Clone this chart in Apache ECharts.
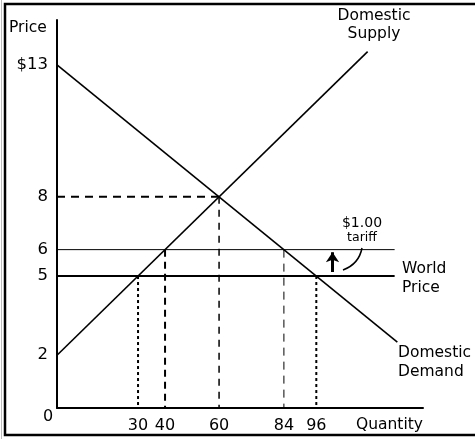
<!DOCTYPE html>
<html>
<head>
<meta charset="utf-8">
<script src="https://cdn.jsdelivr.net/npm/echarts@6/dist/echarts.min.js"></script>
<style>
html,body{margin:0;padding:0;background:#fff;}
#chart{width:475px;height:439px;}
</style>
</head>
<body>
<div id="chart"></div>
<script>
// ---- Data ----
const supplyQ = [0, 115];
const supplyP = [2, 13.5];
const demandQ = [0, 126];
const demandP = [13, 2.5];
const worldPriceQ = [0, 125];
const worldPrice = 5;
const tariffPrice = 6;
const equilibriumQ = 60;
const equilibriumP = 8;
const guideQ = [30, 40, 60, 84, 96];
const guideP = [5, 6, 8, 6, 5];
const xTicks = [30, 40, 60, 84, 96];
const yTicks = [2, 5, 6, 8, 13];
const arrowQ = 102;
const arrowP = [5.15, 5.9];

const FONT = 'DejaVu Sans';
const chart = echarts.init(document.getElementById('chart'), null, {renderer: 'canvas'});

function seg(xs, ys) { return xs.map((x, i) => [x, ys[i]]); }

const guideStyles = [
  {width: 2, type: [3, 3]},
  {width: 2, type: [7, 5]},
  {width: 1.5, type: [7, 6]},
  {width: 1, type: [8, 6]},
  {width: 2, type: [3, 3]}
];

const series = [];
series.push({type: 'line', data: seg(supplyQ, supplyP), symbol: 'none', lineStyle: {color: '#000', width: 1.6}, silent: true, z: 3});
series.push({type: 'line', data: seg(demandQ, demandP), symbol: 'none', lineStyle: {color: '#000', width: 1.6}, silent: true, z: 3});
series.push({type: 'line', data: seg(worldPriceQ, [worldPrice, worldPrice]), symbol: 'none', lineStyle: {color: '#000', width: 2}, silent: true});
series.push({type: 'line', data: seg(worldPriceQ, [tariffPrice, tariffPrice]), symbol: 'none', lineStyle: {color: '#000', width: 1}, silent: true});
series.push({type: 'line', data: [[0, equilibriumP], [equilibriumQ, equilibriumP]], symbol: 'none', lineStyle: {color: '#000', width: 2, type: [8, 6]}, silent: true});
guideQ.forEach((q, i) => {
  series.push({type: 'line', data: [[q, guideP[i]], [q, 0]], symbol: 'none', lineStyle: Object.assign({color: '#000'}, guideStyles[i]), silent: true});
});
series.push({
  type: 'lines', coordinateSystem: 'cartesian2d', silent: true,
  symbol: ['none', 'arrow'], symbolSize: [0, 10],
  lineStyle: {color: '#000', width: 3, opacity: 1},
  data: [{coords: [[arrowQ, arrowP[0]], [arrowQ, arrowP[1]]]}]
});

const option = {
  backgroundColor: '#fff',
  animation: false,
  grid: {left: 57, right: 475 - 423, top: 20, bottom: 31, containLabel: false},
  xAxis: {
    type: 'value', min: 0, max: 135.5,
    axisLine: {show: true, lineStyle: {color: '#000', width: 2}},
    axisTick: {show: false},
    splitLine: {show: false},
    axisLabel: {customValues: xTicks, color: '#000', fontFamily: FONT, fontSize: 16, margin: 10}
  },
  yAxis: {
    type: 'value', min: 0, max: 14.7,
    axisLine: {show: true, lineStyle: {color: '#000', width: 2}},
    axisTick: {show: false},
    splitLine: {show: false},
    axisLabel: {customValues: yTicks, color: '#000', fontFamily: FONT, fontSize: 16.5, margin: 9,
      formatter: v => v === 13 ? '$13' : String(v)}
  },
  series: series,
  graphic: [
    {type: 'rect', shape: {x: 5, y: 4, width: 490, height: 431}, style: {fill: 'none', stroke: '#000', lineWidth: 2.5}, silent: true},
    {type: 'line', shape: {x1: 1.5, y1: 0, x2: 1.5, y2: 439}, style: {stroke: '#bbb', lineWidth: 1}, silent: true},
    {type: 'text', left: 9, top: 20, style: {text: 'Price', font: '15.5px "' + FONT + '"', fill: '#000'}},
    {type: 'text', left: 43, top: 409, style: {text: '0', font: '16px "' + FONT + '"', fill: '#000'}},
    {type: 'text', left: 356, top: 417, style: {text: 'Quantity', font: '15.5px "' + FONT + '"', fill: '#000'}},
    {type: 'text', x: 374, y: 7, style: {text: 'Domestic\nSupply', font: '15.5px "' + FONT + '"', fill: '#000', align: 'center', lineHeight: 18}},
    {type: 'text', x: 402, y: 259, style: {text: 'World\nPrice', font: '15.5px "' + FONT + '"', fill: '#000', align: 'left', lineHeight: 19}},
    {type: 'text', x: 398, y: 343, style: {text: 'Domestic\nDemand', font: '15.5px "' + FONT + '"', fill: '#000', align: 'left', lineHeight: 19}},
    {type: 'text', x: 362, y: 216, style: {text: '$1.00', font: '14px "' + FONT + '"', fill: '#000', align: 'center'}},
    {type: 'text', x: 362, y: 231, style: {text: 'tariff', font: '12.5px "' + FONT + '"', fill: '#000', align: 'center'}},
    {type: 'bezierCurve', shape: {x1: 362, y1: 248, cpx1: 359, cpy1: 264, x2: 343, y2: 270}, style: {stroke: '#000', lineWidth: 1.5, fill: 'none'}, silent: true}
  ]
};
chart.setOption(option);
</script>
</body>
</html>
